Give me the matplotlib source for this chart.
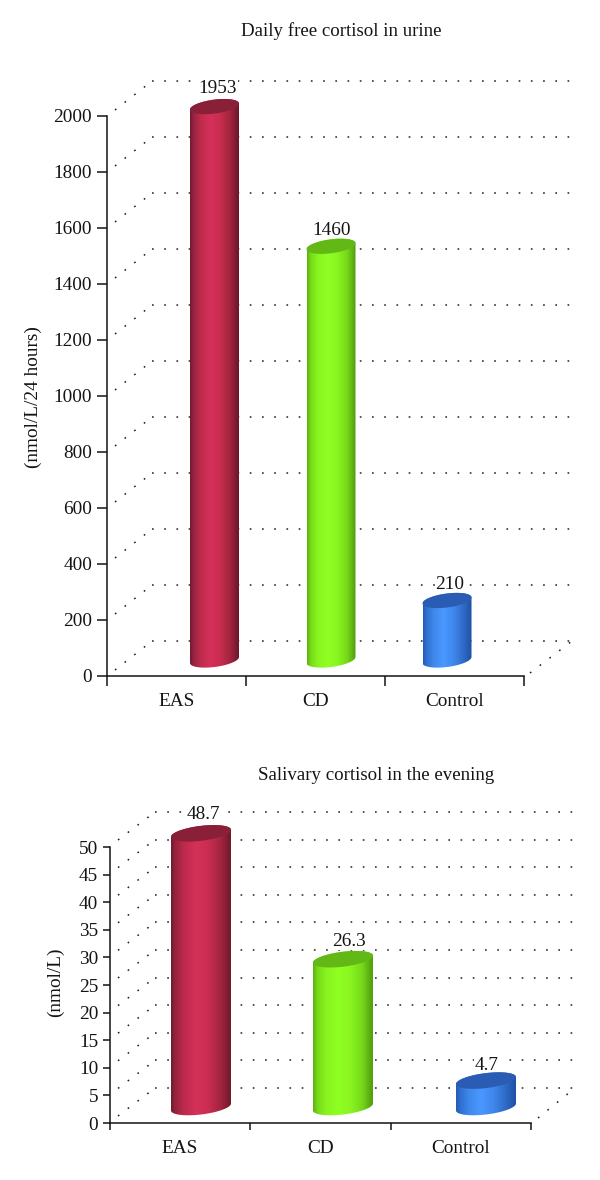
import numpy as np
import matplotlib
matplotlib.use("Agg")
import matplotlib.pyplot as plt
from matplotlib.colors import LinearSegmentedColormap
from matplotlib.patches import Polygon

categories = ["EAS", "CD", "Control"]
urine_values = [1953, 1460, 210]
urine_ticks = [0, 200, 400, 600, 800, 1000, 1200, 1400, 1600, 1800, 2000]
saliva_values = [48.7, 26.3, 4.7]
saliva_labels = ["48.7", "26.3", "4.7"]
saliva_ticks = [0, 5, 10, 15, 20, 25, 30, 35, 40, 45, 50]

W, H = 600, 1180
plt.rcParams["font.family"] = ["Liberation Serif", "DejaVu Serif"]
FS = 13.9
INK = "#141414"

STOPS = [0.0, 0.07, 0.22, 0.42, 0.62, 0.82, 1.0]
PALETTES = [
    ["#6e1a2e", "#97233f", "#bf2b4c", "#d4315a", "#c82d50", "#a3243f", "#6a1729"],
    ["#5cae12", "#76d818", "#88f41f", "#90ff22", "#8af620", "#76d81a", "#509c0e"],
    ["#2459b4", "#2f6fd0", "#3f88ec", "#4a98ff", "#4088ee", "#2f6cc8", "#1e50a4"],
]
TOPS = ["#8a1f38", "#62b814", "#2a5cb4"]


def chart(left, right, top, bottom, ymax, ticks, values, texts, title, tcx, tcy,
          ylabel, ylx, yly, bar_cx, bar_w, base_px, bar_scale, tilt, thick, lab_dx, lab_dy,
          front, back, back_end, floor, tick_len):
    ax = fig.add_axes([left / W, 1 - bottom / H, (right - left) / W, (bottom - top) / H])
    sx = 3 / (right - left)
    sy = ymax / (bottom - top)
    ax.set_xlim(0, 3)
    ax.set_ylim(0, ymax)
    ax.patch.set_alpha(0)
    for s in ("top", "right"):
        ax.spines[s].set_visible(False)
    for s in ("left", "bottom"):
        ax.spines[s].set_linewidth(1.1)
        ax.spines[s].set_color(INK)
        ax.spines[s].set_zorder(6)
    ax.set_yticks(ticks)
    ax.set_xticks([0, 1, 2, 3])
    ax.set_xticklabels([])
    ax.set_xticks([0.5, 1.5, 2.5], minor=True)
    ax.set_xticklabels(categories, minor=True, fontsize=FS, color=INK)
    ax.tick_params(axis="x", which="minor", length=0, pad=12)
    ax.tick_params(axis="both", which="major", length=tick_len, width=1.1, color=INK,
                   labelsize=FS, labelcolor=INK, pad=3.5)

    dot = dict(color="#222222", lw=1.1, linestyle=(0, (1.1, 6.9)), clip_on=False, zorder=1)
    for t in ticks:
        ax.plot(np.array([front[0], back[0]]) * sx, t + np.array([front[1], back[1]]) * sy, **dot)
        ax.plot(np.array([back[0], back_end]) * sx, t + np.array([back[1], back[1]]) * sy, **dot)
    ax.plot(np.array([floor[0], back_end]) * sx, np.array([floor[1], back[1]]) * sy, **dot)

    phi = np.linspace(0, 2 * np.pi, 121)
    for i, v in enumerate(values):
        cx = (bar_cx[i] - left) * sx
        hw = bar_w / 2
        y0 = base_px * sy
        y1 = y0 + v * bar_scale

        def pts(a, yc):
            return np.column_stack([cx + hw * np.cos(a) * sx,
                                    yc + (tilt * np.cos(a) + thick * np.sin(a)) * sy])

        sil = np.vstack([pts(np.linspace(np.pi, 0, 61), y1), pts(np.linspace(0, -np.pi, 61), y0)])
        body = Polygon(sil, closed=True, transform=ax.transData, fc="none", ec="none")
        ax.add_patch(body)
        cmap = LinearSegmentedColormap.from_list("c", list(zip(STOPS, PALETTES[i])))
        im = ax.imshow(np.linspace(0, 1, 256)[None, :], cmap=cmap, aspect="auto",
                       extent=[cx - hw * sx, cx + hw * sx, y0 - 14 * sy, y1 + 14 * sy],
                       zorder=3, interpolation="bilinear")
        im.set_clip_box(fig.bbox)
        im.set_clip_path(body)
        ax.add_patch(Polygon(pts(phi, y1), closed=True, fc=TOPS[i], ec="none", zorder=4, clip_on=False))
        ax.text(cx + lab_dx[i] * sx, y1 + lab_dy[i] * sy, texts[i], ha="center", va="center",
                fontsize=FS, color=INK, zorder=2, clip_on=False,
                bbox=dict(fc="white", ec="none", pad=0.6))
    ax.set_xlim(0, 3)
    ax.set_ylim(0, ymax)
    fig.text(tcx / W, 1 - tcy / H, title, ha="center", va="center", fontsize=FS * 0.98, color=INK)
    fig.text(ylx / W, 1 - yly / H, ylabel, ha="center", va="center", rotation=90, fontsize=FS, color=INK)


fig = plt.figure(figsize=(W / 100, H / 100), dpi=100, facecolor="white")

chart(107, 524, 116, 676, 2000, urine_ticks, urine_values, [str(v) for v in urine_values],
      "Daily free cortisol in urine", 341, 31, "(nmol/L/24 hours)", 33, 397,
      [214.5, 331, 447], 49, 16, 1.012, 3, 7, [3.5, 1, 3], [18, 16, 16],
      (8, 6), (45, 35), 465, (423, 3), 7.2)

chart(110, 531, 847, 1123, 50, saliva_ticks, saliva_values, saliva_labels,
      "Salivary cortisol in the evening", 376, 776, "(nmol/L)", 55, 982,
      [201, 343, 486], 60, 16, 1.018, 3.5, 7.5, [2, 6, 1], [19, 18, 15],
      (8, 7), (45, 35), 465, (428, 5), 5)

fig.savefig("out.png", dpi=100, facecolor="white")
